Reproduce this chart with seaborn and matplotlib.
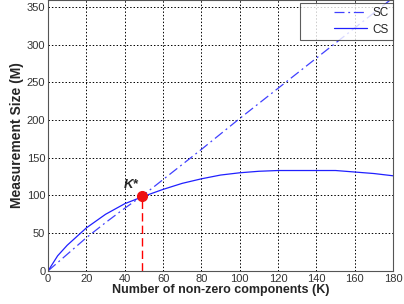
import matplotlib
matplotlib.use("Agg")
import matplotlib.pyplot as plt
from matplotlib.legend_handler import HandlerLine2D
import seaborn as sns
import pandas as pd

sns.set_style("white")
plt.rcParams['font.family'] = ['Liberation Sans', 'DejaVu Sans']

k_sc = [0, 10, 20, 30, 40, 50, 60, 80, 100, 120, 140, 160, 180]
m_sc = [0, 22, 44, 64, 83, 101, 121, 161, 202, 242, 282, 322, 362]
k_cs = [0, 5, 10, 20, 30, 40, 49, 60, 70, 80, 90, 100, 110, 120, 140, 150, 160, 170, 180]
m_cs = [0, 20, 34, 57, 75, 89, 98, 108, 116, 122, 127, 130, 132, 133, 133, 133, 131, 129, 126]
k_star = 49
m_star = 99

df_sc = pd.DataFrame({"K": k_sc, "M": m_sc})
df_cs = pd.DataFrame({"K": k_cs, "M": m_cs})


class RightLine(HandlerLine2D):
    def create_artists(self, legend, orig_handle, xdescent, ydescent, width,
                       height, fontsize, trans):
        shift = width * 0.47
        return super().create_artists(legend, orig_handle, xdescent - shift,
                                      ydescent, width - shift, height,
                                      fontsize, trans)


fig = plt.figure(figsize=(4.04, 3.04), dpi=100)
ax = fig.add_axes([0.119, 0.109, 0.854, 0.891])

sns.lineplot(data=df_sc, x="K", y="M", ax=ax, color="#4040ff", lw=0.9,
             linestyle=(0, (8, 3, 1.5, 3)), label="SC")
sns.lineplot(data=df_cs, x="K", y="M", ax=ax, color="#2020ff", lw=0.9, label="CS")
ax.plot([k_star, k_star], [0, m_star], color="red", lw=1.0, linestyle=(0, (6, 3)))
ax.plot([k_star], [m_star], "o", color="#ee1111", ms=7, zorder=5)
ax.text(k_star - 2, m_star + 7, "K*", fontsize=9.5, fontweight="bold", fontstyle="italic",
        ha="right", va="bottom")

ax.set_xlim(0, 180)
ax.set_ylim(0, 359)
ax.set_xticks(range(0, 181, 20))
ax.set_yticks(range(0, 351, 50))
ax.tick_params(labelsize=8, length=3, direction="in", pad=2, colors="#333333")
ax.grid(True, color="black", linestyle=(0, (1.5, 2)), lw=0.7)
for s in ax.spines.values():
    s.set_color("#555555")
    s.set_linewidth(0.8)
ax.set_xlabel("Number of non-zero components (K)", fontsize=9, fontweight="bold", labelpad=0)
ax.set_ylabel("Measurement Size (M)", fontsize=10, fontweight="bold", labelpad=2)

handles, labels = ax.get_legend_handles_labels()
leg = ax.legend(handles, labels, loc="upper right", fontsize=8.5, frameon=True,
                fancybox=False, bbox_to_anchor=(1.0, 0.988), borderaxespad=0,
                handlelength=5.3, handletextpad=0.5, borderpad=0.35,
                labelspacing=0.35,
                handler_map={h: RightLine() for h in handles})
leg.get_frame().set_edgecolor("#333333")
leg.get_frame().set_linewidth(0.8)

fig.savefig("out.png", dpi=100)
